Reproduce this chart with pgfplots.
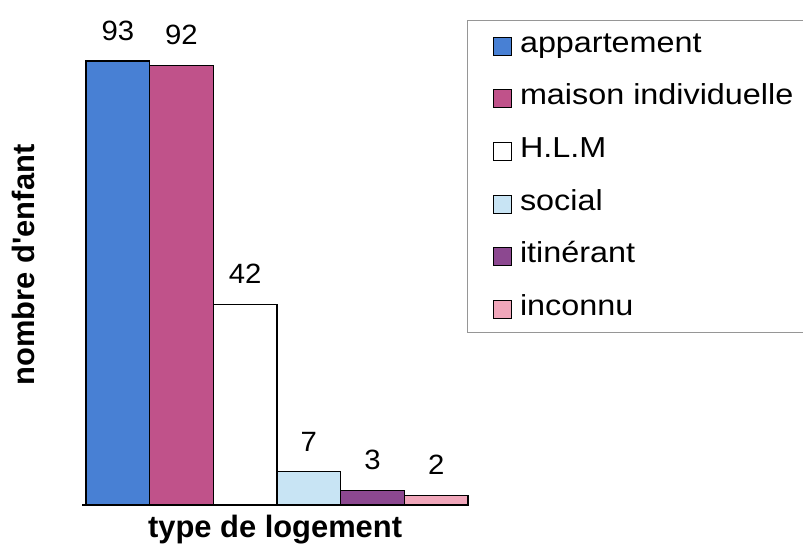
\documentclass[border=0pt]{standalone}
\usepackage{pgfplots}
\pgfplotsset{compat=1.18}
\usepackage{fontspec}
\setmainfont{Liberation Sans}
\newfontfamily\legfont{Liberation Sans}[FakeStretch=1.12]
\newfontfamily\numfont{Liberation Sans}[FakeStretch=1.05]
\definecolor{cAppart}{RGB}{72,128,212}
\definecolor{cMaison}{RGB}{192,82,138}
\definecolor{cHLM}{RGB}{255,255,255}
\definecolor{cSocial}{RGB}{200,228,244}
\definecolor{cItin}{RGB}{140,72,144}
\definecolor{cInconnu}{RGB}{240,166,186}
\definecolor{cFrame}{RGB}{150,150,150}
\begin{document}
\begin{tikzpicture}
\useasboundingbox (0,0) rectangle (803bp,547bp);
\begin{axis}[
  at={(86bp,42bp)}, anchor=south west,
  scale only axis, width=382bp, height=477.4bp,
  xmin=-0.5, xmax=5.5, ymin=0, ymax=100,
  axis line style={draw=none}, xtick=\empty, ytick=\empty,
  clip=false,
  ybar, bar width=1, bar shift=0pt,
  /pgf/number format/assume math mode=true,
  nodes near coords,
  every node near coord/.append style={anchor=south, yshift=20bp, inner sep=0pt, font=\numfont\fontsize{28}{28}\selectfont, text=black},
  xlabel={type de logement}, ylabel={nombre d\textquotesingle enfant},
  xlabel style={at={(axis description cs:0.495,-0.0691)}, anchor=base, font=\fontsize{31}{31}\selectfont\bfseries},
  ylabel style={at={(axis description cs:-0.1361,0.503)}, anchor=base, font=\fontsize{31}{31}\selectfont\bfseries},
  legend style={at={(axis description cs:0.9974,1.0159)}, anchor=north west, draw=none, fill=none,
    inner xsep=26bp, inner ysep=11bp, row sep=24.6bp, font=\legfont\fontsize{29}{29}\selectfont,
    cells={anchor=base west},
    nodes={inner sep=0pt, text height=21bp, text depth=7bp},
    /tikz/every odd column/.append style={column sep=8bp}},
  legend image code/.code={\draw[#1,/tikz/.cd,draw=black,line width=0.8bp] (0bp,-3bp) rectangle (18bp,15bp);},
]
\addplot[fill=cAppart, draw=black, line width=1.1bp, bar shift=0pt] coordinates {(0,93)};
\addlegendentry{appartement}
\addplot[fill=cMaison, draw=black, line width=1.1bp, bar shift=0pt] coordinates {(1,92)};
\addlegendentry{maison individuelle}
\addplot[fill=cHLM, draw=black, line width=1.1bp, bar shift=0pt] coordinates {(2,42)};
\addlegendentry{H.L.M}
\addplot[fill=cSocial, draw=black, line width=1.1bp, bar shift=0pt] coordinates {(3,7)};
\addlegendentry{social}
\addplot[fill=cItin, draw=black, line width=1.1bp, bar shift=0pt] coordinates {(4,3)};
\addlegendentry{itinérant}
\addplot[fill=cInconnu, draw=black, line width=1.1bp, bar shift=0pt] coordinates {(5,2)};
\addlegendentry{inconnu}
\draw[black, line width=1.1bp] (axis cs:-0.56,0) -- (axis cs:5.5,0);
\end{axis}
\draw[cFrame, line width=0.8bp] (467bp,527bp) rectangle (815bp,215bp);
\end{tikzpicture}
\end{document}
